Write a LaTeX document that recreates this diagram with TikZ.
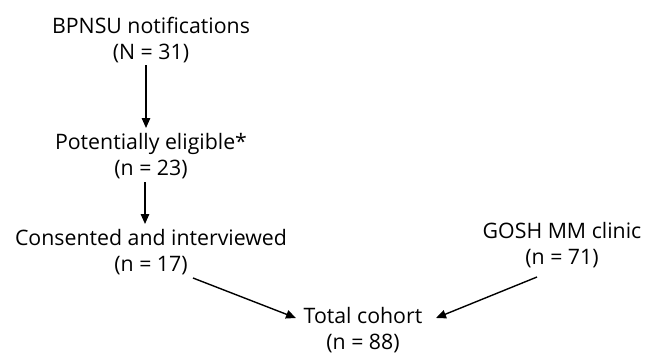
\documentclass[tikz,border=0pt]{standalone}
\usepackage{fontspec}
\setmainfont{Open Sans}
\usetikzlibrary{arrows.meta}
\begin{document}
\begin{tikzpicture}[x=1pt,y=-1pt,
  lbl/.style={inner sep=0pt,align=center,font=\fontsize{21.3}{25.5}\selectfont},
  arr/.style={line width=1.4pt,-{Triangle[length=10pt,width=8.5pt]}}]
\useasboundingbox (0,0) rectangle (647,354);
\node[lbl] (bp) at (151,40) {BPNSU notifications\\(N = 31)};
\node[lbl] (pe) at (151,156) {Potentially eligible*\\(n = 23)};
\node[lbl] (ci) at (151,252) {Consented and interviewed\\(n = 17)};
\node[lbl] (go) at (562,245) {GOSH MM clinic\\(n = 71)};
\node[lbl] (tc) at (363,330) {Total cohort\\(n = 88)};
\draw[arr] ([shift={(-5,25)}]bp.center) -- ([shift={(-5,-28)}]pe.center);
\draw[arr] ([shift={(-6,26)}]pe.center) -- ([shift={(-6,-28)}]ci.center);
\draw[arr] ([shift={(42,26)}]ci.center) -- ([shift={(-67,-12)}]tc.center);
\draw[arr] ([shift={(-25,32)}]go.center) -- ([shift={(73,-12)}]tc.center);
\end{tikzpicture}
\end{document}
